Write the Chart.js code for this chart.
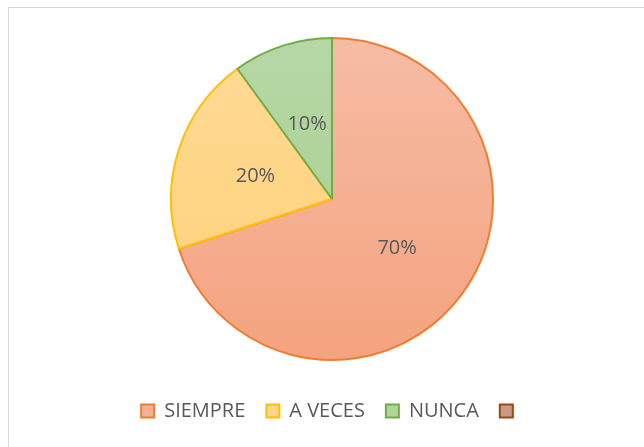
<!DOCTYPE html>
<html>
<head>
<meta charset="utf-8">
<script src="https://cdn.jsdelivr.net/npm/chart.js@4.4.0/dist/chart.umd.min.js"></script>
<style>
    html, body { margin: 0; padding: 0; background: #ffffff; }
    #marco {
        position: absolute; left: 8px; top: 7px; width: 700px; height: 500px;
        border: 1.5px solid #d9d9d9; box-sizing: border-box;
    }
    #contenedor { position: absolute; left: 0; top: 0; width: 644px; height: 447px; }
</style>
</head>
<body>
<div id="marco"></div>
<div id="contenedor"><canvas id="graficoTorta" width="644" height="447"></canvas></div>
<script>
const categorias = ['SIEMPRE', 'A VECES', 'NUNCA', ''];
const porcentajes = [70, 20, 10, 0];

const coloresArriba = ['#f6bca4', '#ffdb96', '#b6d7a6', '#cc9e90'];
const coloresAbajo = ['#f4a37f', '#ffd077', '#a8cf8d', '#c6958a'];
const coloresLegenda = ['#f5b195', '#ffd68a', '#b1d49c', '#c9998a'];
const coloresBorde = ['#ed7d31', '#ffc000', '#70ad47', '#9e480e'];

const RADIO = 161;

function rellenoDegradado(context) {
    const chart = context.chart;
    const area = chart.chartArea;
    const i = context.dataIndex;
    if (!area) return coloresLegenda[i];
    const cy = (area.top + area.bottom) / 2;
    const grad = chart.ctx.createLinearGradient(0, cy - RADIO, 0, cy + RADIO);
    grad.addColorStop(0, coloresArriba[i]);
    grad.addColorStop(1, coloresAbajo[i]);
    return grad;
}

// Etiquetas de porcentaje dentro de cada porción
const etiquetasPorcentaje = {
    id: 'etiquetasPorcentaje',
    afterDatasetsDraw(chart) {
        const ctx = chart.ctx;
        const meta = chart.getDatasetMeta(0);
        ctx.save();
        ctx.font = '20px "Open Sans"';
        ctx.fillStyle = '#595959';
        ctx.textAlign = 'center';
        ctx.textBaseline = 'middle';
        meta.data.forEach((arco, i) => {
            if (!porcentajes[i]) return;
            const pos = arco.tooltipPosition();
            ctx.fillText(porcentajes[i] + '%', pos.x, pos.y + 2);
        });
        ctx.restore();
    }
};

const ctx = document.getElementById('graficoTorta').getContext('2d');
window.graficoTorta = new Chart(ctx, {
    type: 'pie',
    data: {
        labels: categorias,
        datasets: [{
            data: porcentajes,
            backgroundColor: rellenoDegradado,
            borderColor: coloresBorde,
            borderWidth: function (c) { return porcentajes[c.dataIndex] ? 2 : 0; }
        }]
    },
    options: {
        responsive: false,
        animation: false,
        radius: RADIO,
        layout: { padding: { top: 18, bottom: 16, left: 20, right: 0 } },
        plugins: {
            tooltip: { enabled: false },
            legend: {
                position: 'bottom',
                labels: {
                    font: { family: 'Open Sans', size: 20 },
                    color: '#595959',
                    boxWidth: 13,
                    boxHeight: 13,
                    padding: 21,
                    generateLabels: function () {
                        return categorias.map((nombre, i) => ({
                            text: nombre,
                            fillStyle: coloresLegenda[i],
                            strokeStyle: coloresBorde[i],
                            lineWidth: 2,
                            fontColor: '#595959',
                            hidden: false,
                            index: i
                        }));
                    }
                }
            }
        }
    },
    plugins: [etiquetasPorcentaje]
});
</script>
</body>
</html>
